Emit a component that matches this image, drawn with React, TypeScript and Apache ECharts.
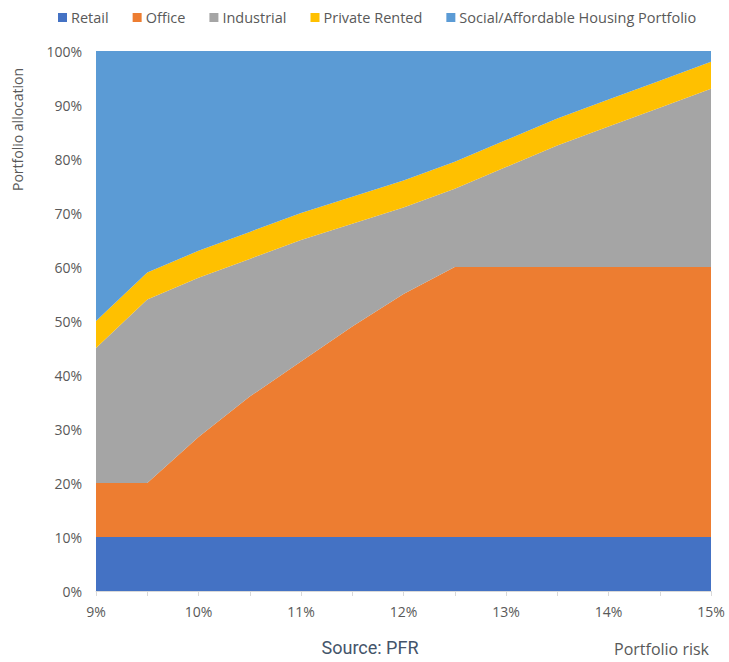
import React, { useEffect, useRef } from "react";
import * as echarts from "echarts";

const riskLevels = ["9%", "9.5%", "10%", "10.5%", "11%", "11.5%", "12%", "12.5%", "13%", "13.5%", "14%", "14.5%", "15%"];
const retail = [10, 10, 10, 10, 10, 10, 10, 10, 10, 10, 10, 10, 10];
const office = [10, 10, 18.5, 26, 32.5, 39, 45, 50, 50, 50, 50, 50, 50];
const industrial = [25, 34, 29.5, 25.5, 22.5, 19, 16, 14.5, 18.5, 22.5, 26, 29.5, 33];
const privateRented = [5, 5, 5, 5, 5, 5, 5, 5, 5, 5, 5, 5, 5];
const socialHousing = [50, 41, 37, 33.5, 30, 27, 24, 20.5, 16.5, 12.5, 9, 5.5, 2];
const yTicks = [0, 10, 20, 30, 40, 50, 60, 70, 80, 90, 100];

const seriesDefs = [
  { name: "Retail", data: retail, color: "#4472c4" },
  { name: "Office", data: office, color: "#ed7d31" },
  { name: "Industrial", data: industrial, color: "#a5a5a5" },
  { name: "Private Rented", data: privateRented, color: "#ffc000" },
  { name: "Social/Affordable Housing Portfolio", data: socialHousing, color: "#5b9bd5" },
];

export default function App() {
  const ref = useRef<HTMLDivElement>(null);
  useEffect(() => {
    if (!ref.current) return;
    const chart = echarts.init(ref.current, null, { renderer: "svg" });
    const font = "'Open Sans', sans-serif";
    chart.setOption({
      animation: false,
      textStyle: { fontFamily: font },
      legend: {
        top: 5,
        left: 53,
        itemWidth: 9,
        itemHeight: 9,
        itemGap: 24,
        icon: "rect",
        textStyle: { color: "#595959", fontSize: 14.5, fontFamily: font, padding: [0, 0, 0, -1] },
        data: seriesDefs.map((s) => s.name),
      },
      grid: { left: 96, right: 18, top: 51, bottom: 71, containLabel: false },
      xAxis: {
        type: "category",
        boundaryGap: false,
        data: riskLevels,
        axisLine: { show: true, lineStyle: { color: "#d9d9d9" } },
        axisTick: { show: true, length: 5, interval: 0, lineStyle: { color: "#d9d9d9" } },
        axisLabel: {
          interval: 1,
          color: "#595959",
          fontSize: 14,
          margin: 13,
          fontFamily: font,
        },
        splitLine: { show: false },
      },
      yAxis: {
        type: "value",
        min: 0,
        max: 100,
        interval: 10,
        axisLine: { show: false },
        axisTick: { show: false },
        splitLine: { show: false },
        axisLabel: {
          color: "#595959",
          fontSize: 14,
          margin: 14,
          fontFamily: font,
          formatter: (v: number) => (yTicks.includes(v) ? `${v}%` : ""),
        },
      },
      series: seriesDefs.map((s) => ({
        name: s.name,
        type: "line",
        stack: "total",
        data: s.data,
        symbol: "none",
        lineStyle: { width: 0 },
        itemStyle: { color: s.color },
        areaStyle: { color: s.color, opacity: 1 },
      })),
      graphic: [
        {
          type: "text",
          x: 10,
          y: 191,
          rotation: Math.PI / 2,
          style: {
            text: "Portfolio allocation",
            fill: "#595959",
            fontSize: 14,
            fontFamily: font,
            textAlign: "left",
            textVerticalAlign: "top",
          },
        },
        {
          type: "text",
          x: 370,
          y: 647,
          style: {
            text: "Source: PFR",
            fill: "#44546a",
            fontSize: 18,
            fontFamily: "Roboto, sans-serif",
            textAlign: "center",
            textVerticalAlign: "middle",
          },
        },
        {
          type: "text",
          x: 709,
          y: 649,
          style: {
            text: "Portfolio risk",
            fill: "#595959",
            fontSize: 16,
            fontFamily: font,
            textAlign: "right",
            textVerticalAlign: "middle",
          },
        },
      ],
    });
    return () => chart.dispose();
  }, []);
  return <div ref={ref} style={{ width: 729, height: 662, position: "absolute", left: 0, top: 0 }} />;
}
